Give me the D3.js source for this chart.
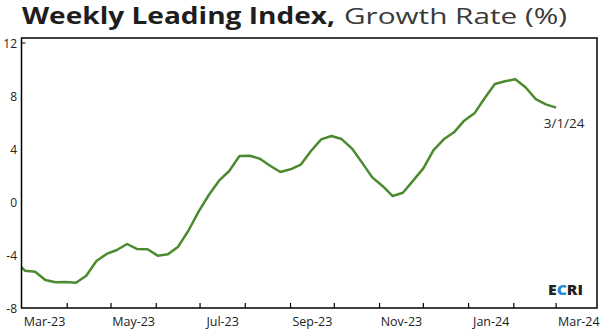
<!DOCTYPE html>
<html><head><meta charset="utf-8">
<script src="https://cdn.jsdelivr.net/npm/d3@7"></script>
<style>body{margin:0;background:#fff}svg{display:block}</style>
</head><body>
<svg id="c" width="600" height="335"></svg>
<script>
const weeks = ["2023-02-24","2023-03-03","2023-03-10","2023-03-17","2023-03-24","2023-03-31","2023-04-07","2023-04-14","2023-04-21","2023-04-28",
"2023-05-05","2023-05-12","2023-05-19","2023-05-26","2023-06-02","2023-06-09","2023-06-16","2023-06-23","2023-06-30","2023-07-07",
"2023-07-14","2023-07-21","2023-07-28","2023-08-04","2023-08-11","2023-08-18","2023-08-25","2023-09-01","2023-09-08","2023-09-15",
"2023-09-22","2023-09-29","2023-10-06","2023-10-13","2023-10-20","2023-10-27","2023-11-03","2023-11-10","2023-11-17","2023-11-24",
"2023-12-01","2023-12-08","2023-12-15","2023-12-22","2023-12-29","2024-01-05","2024-01-12","2024-01-19","2024-01-26","2024-02-02",
"2024-02-09","2024-02-16","2024-02-23","2024-03-01"];
const growth = [-4.4,-5.18,-5.26,-5.89,-6.06,-6.04,-6.09,-5.56,-4.45,-3.92,
-3.62,-3.17,-3.55,-3.57,-4.05,-3.95,-3.37,-2.17,-0.73,0.53,
1.61,2.34,3.47,3.49,3.27,2.74,2.26,2.47,2.82,3.85,
4.73,4.98,4.75,4.05,2.97,1.86,1.21,0.45,0.70,1.61,
2.54,3.92,4.73,5.26,6.14,6.69,7.83,8.91,9.11,9.26,
8.66,7.77,7.37,7.12];
const yTicks = [-8,-4,0,4,8,12];
const xLabelMonths = ["2023-03","2023-05","2023-07","2023-09","2023-11","2024-01","2024-03"];
const lastLabel = "3/1/24";

const svg = d3.select("#c");
const L=21.5, R=597, T=38, B=308;
const x = d3.scaleUtc().domain([new Date("2023-03-01"), new Date("2024-03-29")]).range([22, R]);
const y = d3.scaleLinear().domain([-8,12]).range([B,43]);
const data = weeks.map((d,i)=>({d:new Date(d), v:growth[i]}));

// title
svg.append("text").attr("x",22).attr("y",24).attr("font-family","Open Sans").attr("font-weight",700)
  .attr("font-size",22.5).attr("fill","#1e1e1e").attr("textLength",313).attr("lengthAdjust","spacingAndGlyphs")
  .text("Weekly Leading Index,");
svg.append("text").attr("x",344).attr("y",24).attr("font-family","Open Sans").attr("font-weight",400)
  .attr("font-size",22.5).attr("fill","#3a3a3a").attr("textLength",223).attr("lengthAdjust","spacingAndGlyphs")
  .text("Growth Rate (%)");

svg.append("defs").append("clipPath").attr("id","clip").append("rect")
  .attr("x",L).attr("y",T).attr("width",R-L).attr("height",B-T);

// line
const line = d3.line().x(d=>x(d.d)).y(d=>y(d.v));
svg.append("path").datum(data).attr("clip-path","url(#clip)").attr("d",line)
  .attr("fill","none").attr("stroke","#4b8a2e").attr("stroke-width",2.5).attr("stroke-linejoin","round");

// frame
svg.append("rect").attr("x",L).attr("y",T).attr("width",R-L).attr("height",B-T)
  .attr("fill","none").attr("stroke","#000").attr("stroke-width",1.5);

// y axis labels
svg.append("g").selectAll("text").data(yTicks).join("text")
  .attr("x",17).attr("y",d=>y(d)+4.5).attr("text-anchor","end")
  .attr("font-family","Open Sans").attr("font-size",12).attr("fill","#222").text(d=>d);
svg.append("line").attr("x1",L).attr("x2",L+4).attr("y1",y(12)).attr("y2",y(12)).attr("stroke","#000").attr("stroke-width",1);

// x ticks (month boundaries)
const months = d3.utcMonth.range(new Date("2023-04-01"), new Date("2024-03-29"));
svg.append("g").selectAll("line").data(months).join("line")
  .attr("x1",d=>x(d)).attr("x2",d=>x(d)).attr("y1",B).attr("y2",B-5)
  .attr("stroke","#000").attr("stroke-width",1.2);
const fmt = d3.utcFormat("%b-%y");
svg.append("g").selectAll("text").data(xLabelMonths).join("text")
  .attr("x",m=>{const s=new Date(m+"-01"); const e=d3.utcMonth.offset(s,1); return (x(s)+x(e))/2;})
  .attr("y",326).attr("text-anchor","middle")
  .attr("font-family","Open Sans").attr("font-size",12.5).attr("fill","#222")
  .text(m=>fmt(new Date(m+"-01")));

// last label
const last = data[data.length-1];
svg.append("text").attr("x",x(last.d)+8).attr("y",y(last.v)+20).attr("text-anchor","middle")
  .attr("font-family","Open Sans").attr("font-size",13.5).attr("fill","#2a2a2a").text(lastLabel);

// ECRI logo
const lg = svg.append("text").attr("x",548).attr("y",295).attr("font-family","Open Sans").attr("font-weight",800)
  .attr("font-size",14.5).attr("fill","#222").attr("textLength",35).attr("lengthAdjust","spacingAndGlyphs");
lg.append("tspan").text("E");
lg.append("tspan").attr("fill","#1f8ad6").text("C");
lg.append("tspan").text("RI");
</script>
</body></html>
